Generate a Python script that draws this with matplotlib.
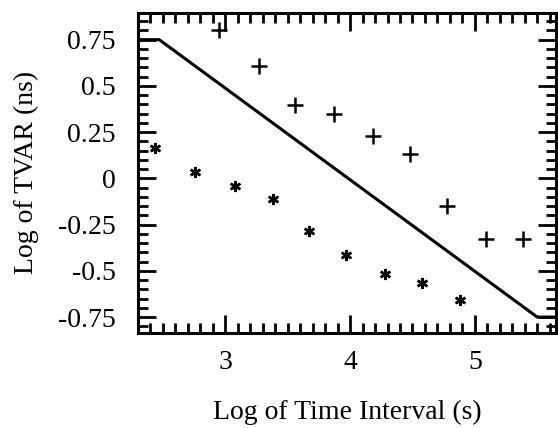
import numpy as np
import matplotlib
matplotlib.use("Agg")
import matplotlib.pyplot as plt
from matplotlib.ticker import MultipleLocator, FixedLocator

# Data
plus_x = [2.95, 3.27, 3.56, 3.87, 4.18, 4.48, 4.78, 5.09, 5.39]
plus_y = [0.80, 0.605, 0.395, 0.35, 0.227, 0.13, -0.15, -0.33, -0.33]
star_x = [2.44, 2.76, 3.08, 3.38, 3.67, 3.97, 4.28, 4.58, 4.88]
star_y = [0.163, 0.033, -0.042, -0.112, -0.285, -0.414, -0.516, -0.565, -0.66]
line_x = [2.30, 2.47, 5.50, 5.65]
line_y = [0.75, 0.75, -0.75, -0.75]

ytick_vals = [0.75, 0.5, 0.25, 0, -0.25, -0.5, -0.75]
ytick_labels = ["0.75", "0.5", "0.25", "0", "-0.25", "-0.5", "-0.75"]
xtick_vals = [3, 4, 5]

plt.rcParams["font.family"] = ["Liberation Serif", "DejaVu Serif"]

fig = plt.figure(figsize=(5.58, 4.28), dpi=100)
ax = fig.add_axes([0.2473, 0.222, 0.749, 0.748])

ax.plot(line_x, line_y, color="black", linewidth=2.2, solid_capstyle="butt")
ax.plot(plus_x, plus_y, linestyle="none", marker="+", markersize=11,
        markeredgewidth=1.8, color="black")
ax.plot(star_x, star_y, linestyle="none", marker=(6, 2, 0), markersize=8,
        markeredgewidth=1.8, color="black")

ax.set_xlim(2.30, 5.65)
ax.set_ylim(-0.836, 0.895)

ax.xaxis.set_major_locator(FixedLocator(xtick_vals))
ax.xaxis.set_minor_locator(MultipleLocator(0.1))
ax.set_yticks(ytick_vals)
ax.set_yticklabels(ytick_labels)
ax.yaxis.set_minor_locator(MultipleLocator(0.05))

ax.tick_params(which="both", direction="in", top=True, right=True,
               labelsize=20, color="black", width=2)
ax.tick_params(which="major", length=13)
ax.tick_params(which="minor", length=7)
ax.tick_params(axis="x", pad=12)
ax.tick_params(axis="y", pad=16)

for s in ax.spines.values():
    s.set_linewidth(2.2)

ax.set_xlabel("Log of Time Interval (s)", fontsize=20, labelpad=18)
ax.set_ylabel("Log of TVAR (ns)", fontsize=20, labelpad=14)

fig.savefig("out.png", dpi=100)
